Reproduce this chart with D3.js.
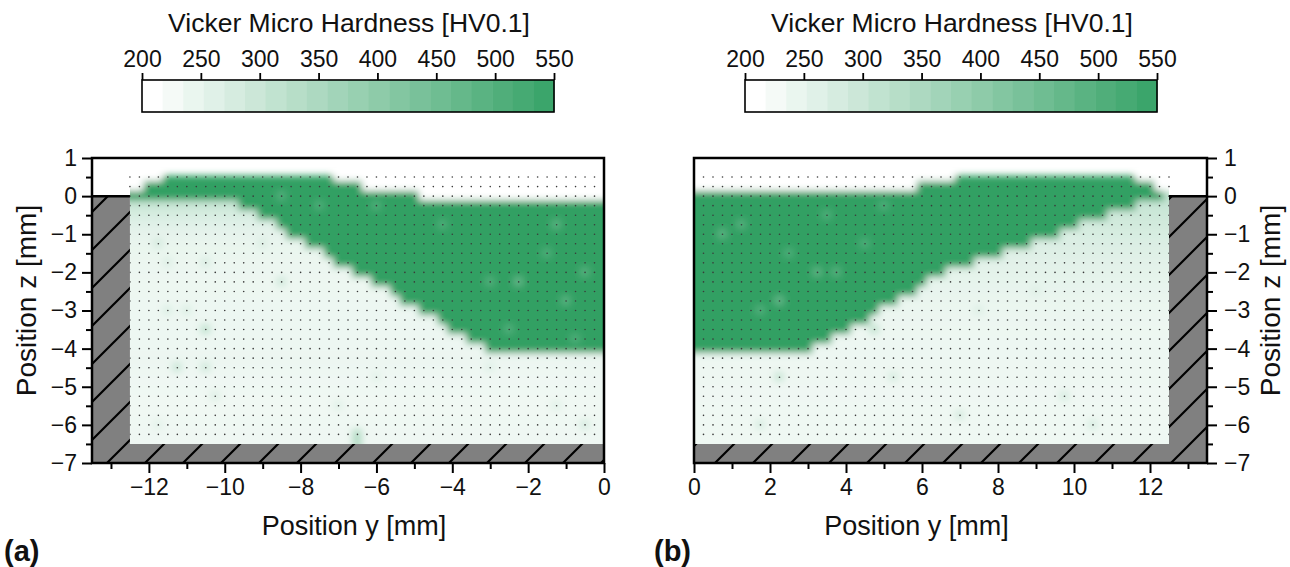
<!DOCTYPE html>
<html><head><meta charset="utf-8">
<script src="https://cdn.jsdelivr.net/npm/d3@7"></script>
<style>
body{margin:0;background:#fff}
text{font-family:"Liberation Sans",Arial,sans-serif;fill:#111}
</style>
</head><body>
<script>
// ---------------- DATA ----------------
// measurement rows (z, mm)
const zRows = [0.5,0.25,0,-0.25,-0.5,-0.75,-1,-1.25,-1.5,-1.75,-2,-2.25,-2.5,-2.75,-3,-3.25,-3.5,-3.75,-4,-4.25,-4.5,-4.75,-5,-5.25,-5.5,-5.75,-6,-6.25];
const colsA = d3.range(51).map(k => -12.5 + 0.25 * k);
const colsB = d3.range(51).map(k => 0 + 0.25 * k);

// panel (a): hard (fusion) zone span per row, y from..to [mm]
const hardFromA = [-11.5,-12.0,-12.5,-9.5,-9.0,-8.5,-8.25,-7.75,-7.25,-7.0,-6.5,-6.0,-5.5,-5.25,-4.75,-4.25,-4.0,-3.5,-3.0];
const hardToA   = [-7.25,-6.5,-5.0,0,0,0,0,0,0,0,0,0,0,0,0,0,0,0,0];
// material span in the top rows (outside: no material)
const matFromA = [-11.5,-12.0,-12.5];
const matToA   = [-7.25,-6.5,-5.0];
// base hardness of the base material per row [HV0.1]
const softA = [200,200,200,292,268,252,243,238,235,233,232,231,231,230,230,230,230,230,230,232,230,228,227,226,226,226,227,228];
const hardA = 560;
// local deviations [y, z, HV]
const spotsA = [
  [-11.75,-1.25,272],[-11.5,-1.75,258],[-10.5,-1.75,265],[-8.5,-2.25,280],[-11.5,-3.0,260],[-11.0,-3.0,260],
  [-10.5,-3.5,305],[-11.25,-4.5,288],[-10.5,-4.5,278],[-10.25,-5.25,258],[-7.0,-5.5,252],[-6.5,-6.25,330],
  [-0.5,-6.0,270],[-1.25,-5.5,252],[-3.0,-4.5,252],[-6.0,-4.75,248],[-11.75,-6.0,248],[-9.0,-1.25,262],
  [-1.25,-0.75,485],[-4.25,-0.75,500],[-2.25,-2.25,470],[-1.0,-2.75,485],[-0.5,-2.0,490],[-1.5,-1.5,500],
  [-6.0,-0.25,500],[-3.0,-2.25,495],[-8.5,0,495],[-7.5,-0.25,500],[-2.5,-3.5,495],[-0.75,-3.75,500]
];

// panel (b)
const hardFromB = [7.0,6.0,0,0,0,0,0,0,0,0,0,0,0,0,0,0,0,0,0];
const hardToB   = [11.5,12.0,12.25,11.5,10.75,10.0,9.5,8.75,8.0,7.25,6.5,6.0,5.75,5.25,4.75,4.5,4.0,3.5,3.0];
const matFromB = [7.0,6.0,0];
const matToB   = [11.5,12.0,12.5];
const softB = [200,200,305,295,285,276,268,261,255,250,246,242,239,236,234,232,231,230,230,230,229,229,228,228,227,227,227,227];
const hardB = 560;
const spotsB = [
  [0.75,-1.0,480],[1.25,-0.75,490],[2.25,-2.75,470],[3.25,-2.0,480],[3.75,-2.0,490],[3.5,-0.5,500],
  [4.5,-1.25,500],[1.75,-3.0,495],[5.0,-0.25,500],[2.5,-1.5,500],
  [2.25,-4.75,292],[5.25,-4.75,268],[1.75,-6.0,268],[4.75,-3.5,300],[9.75,-5.25,268],[7.0,-5.75,272],
  [10.5,-6.0,268],[10.0,-1.0,262],[7.5,-3.0,258],[9.0,-2.5,255]
];

// axes / colour bar
const cbTicks = [200,250,300,350,400,450,500,550];
const cbMin = 200, cbMax = 550, cbLevels = 20;
const xTicksA = [-12,-10,-8,-6,-4,-2,0];
const xMinorA = [-13,-11,-9,-7,-5,-3,-1];
const xTicksB = [0,2,4,6,8,10,12];
const xMinorB = [1,3,5,7,9,11,13];
const zTicks = [1,0,-1,-2,-3,-4,-5,-6,-7];
const zMinor = [0.5,-0.5,-1.5,-2.5,-3.5,-4.5,-5.5,-6.5];
const cbTitle = "Vicker Micro Hardness [HV0.1]";
const xTitle = "Position y [mm]";
const zTitle = "Position z [mm]";

// ---------------- DRAWING ----------------
const W = 1290, H = 567;
const svg = d3.select("body").append("svg").attr("width", W).attr("height", H);
const defs = svg.append("defs");
const color = d3.scaleLinear().domain([cbMin, cbMax]).range(["#ffffff", "#31a063"]).clamp(true);

defs.append("pattern").attr("id","hatch").attr("patternUnits","userSpaceOnUse")
  .attr("width",38).attr("height",38)
  .append("path").attr("d","M0,38 L38,0 M-5,5 L5,-5 M33,43 L43,33")
  .attr("stroke","#000").attr("stroke-width",2.2);
defs.append("filter").attr("id","soft").attr("x","-5%").attr("y","-5%").attr("width","110%").attr("height","110%")
  .append("feGaussianBlur").attr("stdDeviation",3.6);

const zs = d3.scaleLinear([-7, 1], [463, 158]);

const panels = [
  {xs: d3.scaleLinear([-13.5, 0], [92, 604]), cols: colsA, hardFrom: hardFromA, hardTo: hardToA,
   matFrom: matFromA, matTo: matToA, soft: softA, hard: hardA, spots: spotsA, matMin: -12.5, matMax: 0,
   gray: [[-13.5,0],[-12.5,0],[-12.5,-6.5],[0,-6.5],[0,-7],[-13.5,-7]], zero: [-13.5,-12.5],
   xTicks: xTicksA, xMinor: xMinorA, side: "left", letter: "(a)", letterX: 4, titleDx: 6,
   cbX: [142, 554]},
  {xs: d3.scaleLinear([0, 13.5], [694, 1207]), cols: colsB, hardFrom: hardFromB, hardTo: hardToB,
   matFrom: matFromB, matTo: matToB, soft: softB, hard: hardB, spots: spotsB, matMin: 0, matMax: 12.5,
   gray: [[13.5,0],[12.5,0],[12.5,-6.5],[0,-6.5],[0,-7],[13.5,-7]], zero: [12.5,13.5],
   xTicks: xTicksB, xMinor: xMinorB, side: "right", letter: "(b)", letterX: 654, titleDx: -34,
   cbX: [745, 1157]}
];

const eps = 1e-6;
panels.forEach((p, pi) => {
  const xs = p.xs;
  const spotMap = new Map(p.spots.map(s => [s[0].toFixed(2) + "|" + s[1].toFixed(2), s[2]]));
  function value(i, y) {
    if (i < p.matFrom.length && (y < p.matFrom[i] - eps || y > p.matTo[i] + eps)) return cbMin;
    const key = y.toFixed(2) + "|" + zRows[i].toFixed(2);
    if (spotMap.has(key)) return spotMap.get(key);
    if (i < p.hardFrom.length && y >= p.hardFrom[i] - eps && y <= p.hardTo[i] + eps) return p.hard;
    return p.soft[i];
  }
  const cells = [];
  zRows.forEach((z, i) => p.cols.forEach((y, k) => {
    let l = y - 0.125, r = y + 0.125, t = z + 0.125, b = z - 0.125;
    if (k === 0) l -= 0.6;
    if (k === p.cols.length - 1) r += 0.6;
    if (i === 0) t = 0.53;
    if (i === zRows.length - 1) b -= 0.6;
    cells.push({l, r, t, b, v: value(i, y)});
  }));

  const clipId = "clip" + pi;
  defs.append("clipPath").attr("id", clipId).append("rect")
    .attr("x", xs(p.matMin)).attr("y", zs(1))
    .attr("width", xs(p.matMax) - xs(p.matMin)).attr("height", zs(-6.5) - zs(1));

  const g = svg.append("g");
  g.append("rect").attr("x", xs.range()[0]).attr("y", zs(1))
    .attr("width", xs.range()[1] - xs.range()[0]).attr("height", zs(-7) - zs(1)).attr("fill", "#fff");

  const heat = g.append("g").attr("clip-path", `url(#${clipId})`)
    .append("g").attr("filter", "url(#soft)");
  heat.selectAll("rect").data(cells).join("rect")
    .attr("x", d => Math.min(xs(d.l), xs(d.r)) - 0.4)
    .attr("y", d => zs(d.t) - 0.4)
    .attr("width", d => Math.abs(xs(d.r) - xs(d.l)) + 0.8)
    .attr("height", d => zs(d.b) - zs(d.t) + 0.8)
    .attr("fill", d => color(d.v));

  // measurement dots
  const dots = [];
  zRows.forEach(z => p.cols.forEach(y => dots.push([y, z])));
  g.append("g").selectAll("circle").data(dots).join("circle")
    .attr("cx", d => xs(d[0])).attr("cy", d => zs(d[1])).attr("r", 0.8).attr("fill", "#3a3a3a");

  // clamped region (grey, hatched)
  const line = d3.line().x(d => xs(d[0])).y(d => zs(d[1]));
  g.append("path").attr("d", line(p.gray) + "Z").attr("fill", "#808080");
  g.append("path").attr("d", line(p.gray) + "Z").attr("fill", "url(#hatch)");
  g.append("line").attr("x1", xs(p.zero[0])).attr("x2", xs(p.zero[1]))
    .attr("y1", zs(0)).attr("y2", zs(0)).attr("stroke", "#000").attr("stroke-width", 2.5);

  // frame
  g.append("rect").attr("x", xs.range()[0]).attr("y", zs(1))
    .attr("width", xs.range()[1] - xs.range()[0]).attr("height", zs(-7) - zs(1))
    .attr("fill", "none").attr("stroke", "#000").attr("stroke-width", 2.5);

  // axes
  const fmt = d => d3.format("d")(d).replace("-", "\u2212");
  const xa = g.append("g").attr("transform", `translate(0,${zs(-7)})`)
    .call(d3.axisBottom(xs).tickValues(p.xTicks).tickSize(10).tickPadding(6).tickFormat(fmt));
  const xm = g.append("g").attr("transform", `translate(0,${zs(-7)})`)
    .call(d3.axisBottom(xs).tickValues(p.xMinor).tickSize(6).tickFormat(""));
  const zx = p.side === "left" ? xs.range()[0] : xs.range()[1];
  const axisZ = p.side === "left" ? d3.axisLeft : d3.axisRight;
  const za = g.append("g").attr("transform", `translate(${zx},0)`)
    .call(axisZ(zs).tickValues(zTicks).tickSize(10).tickPadding(p.side === "left" ? 5 : 7).tickFormat(fmt));
  const zm = g.append("g").attr("transform", `translate(${zx},0)`)
    .call(axisZ(zs).tickValues(zMinor).tickSize(6).tickFormat(""));
  [xa, xm, za, zm].forEach(a => {
    a.select(".domain").remove();
    a.selectAll("line").attr("stroke", "#000").attr("stroke-width", 2);
    a.selectAll("text").attr("font-size", 23).attr("font-family", "Liberation Sans, Arial, sans-serif").attr("fill", "#111");
  });

  // axis titles
  g.append("text").attr("x", (xs.range()[0] + xs.range()[1]) / 2 + p.titleDx).attr("y", 535)
    .attr("text-anchor", "middle").attr("font-size", 27).text(xTitle);
  const tx = p.side === "left" ? 36 : 1280;
  g.append("text").attr("transform", `translate(${tx},${zs(-3) - 10}) rotate(-90)`)
    .attr("text-anchor", "middle").attr("font-size", 28).text(zTitle);
  g.append("text").attr("x", p.letterX).attr("y", 561).attr("font-size", 29)
    .attr("font-weight", "bold").text(p.letter);

  // colour bar
  const cb = d3.scaleLinear([cbMin, cbMax], p.cbX);
  const step = (cbMax - cbMin) / cbLevels;
  const levels = d3.range(cbLevels).map(i => cbMin + i * step);
  const cg = svg.append("g");
  cg.selectAll("rect").data(levels).join("rect")
    .attr("x", d => cb(d)).attr("y", 80).attr("width", d => cb(d + step) - cb(d) + 0.5).attr("height", 32)
    .attr("fill", d => color(d));
  cg.append("rect").attr("x", p.cbX[0]).attr("y", 80).attr("width", p.cbX[1] - p.cbX[0]).attr("height", 32)
    .attr("fill", "none").attr("stroke", "#000").attr("stroke-width", 1.6);
  const ca = cg.append("g").attr("transform", "translate(0,80)")
    .call(d3.axisTop(cb).tickValues(cbTicks).tickSize(7).tickPadding(6).tickFormat(d3.format("d")));
  ca.select(".domain").remove();
  ca.selectAll("line").attr("stroke", "#000").attr("stroke-width", 1.8);
  ca.selectAll("text").attr("font-size", 23).attr("font-family", "Liberation Sans, Arial, sans-serif").attr("fill", "#111");
  cg.append("text").attr("x", (p.cbX[0] + p.cbX[1]) / 2 + 1).attr("y", 32).attr("text-anchor", "middle")
    .attr("font-size", 26.5).text(cbTitle);
});
</script>
</body></html>
